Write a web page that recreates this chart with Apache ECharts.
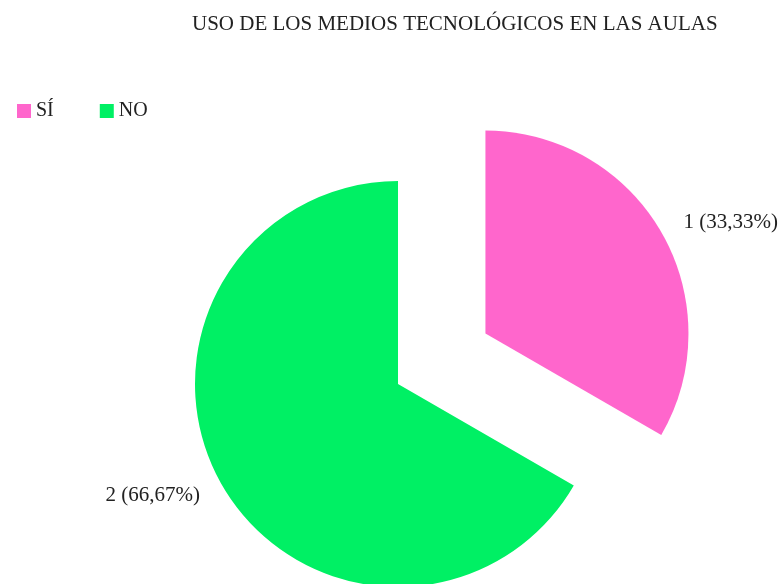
<!DOCTYPE html>
<html lang="es">
<head>
    <meta charset="UTF-8">
    <title>Uso de los medios tecnológicos</title>
    <script src="https://cdn.jsdelivr.net/npm/echarts@6/dist/echarts.min.js"></script>
    <style>
        html, body { margin: 0; padding: 0; background: #fff; }
        #main { width: 778px; height: 584px; }
    </style>
</head>
<body>
<div id="main"></div>
<script type="text/javascript">
    // datos del gráfico
    var categorias = ['SÍ', 'NO'];
    var valores = [1, 2];
    var colores = ['#ff66cc', '#00f064'];

    var myChart = echarts.init(document.getElementById('main'));
    var serif = '"Liberation Serif", "Times New Roman", serif';

    var option = {
        title: {
            text: 'USO DE LOS MEDIOS TECNOLÓGICOS EN LAS AULAS',
            left: 187,
            top: 9,
            textStyle: { fontFamily: serif, fontSize: 21, fontWeight: 'normal', color: '#222' }
        },
        color: colores,
        legend: {
            left: 12,
            top: 96,
            itemWidth: 14,
            itemHeight: 14,
            itemGap: 46,
            icon: 'rect',
            data: categorias,
            textStyle: { fontFamily: serif, fontSize: 20, color: '#222' }
        },
        series: [{
            type: 'pie',
            center: [398, 384],
            radius: 203,
            startAngle: 90,
            selectedMode: 'single',
            selectedOffset: 101,
            animation: false,
            label: {
                position: 'outside',
                fontFamily: serif,
                fontSize: 21,
                color: '#222',
                formatter: function (p) {
                    return p.value + ' (' + p.percent.toFixed(2).replace('.', ',') + '%)';
                }
            },
            labelLine: { show: false, length: 20, length2: 0 },
            emphasis: { scale: false },
            data: categorias.map(function (c, i) {
                return { name: c, value: valores[i], selected: i === 0 };
            })
        }]
    };
    myChart.setOption(option);
</script>
</body>
</html>
